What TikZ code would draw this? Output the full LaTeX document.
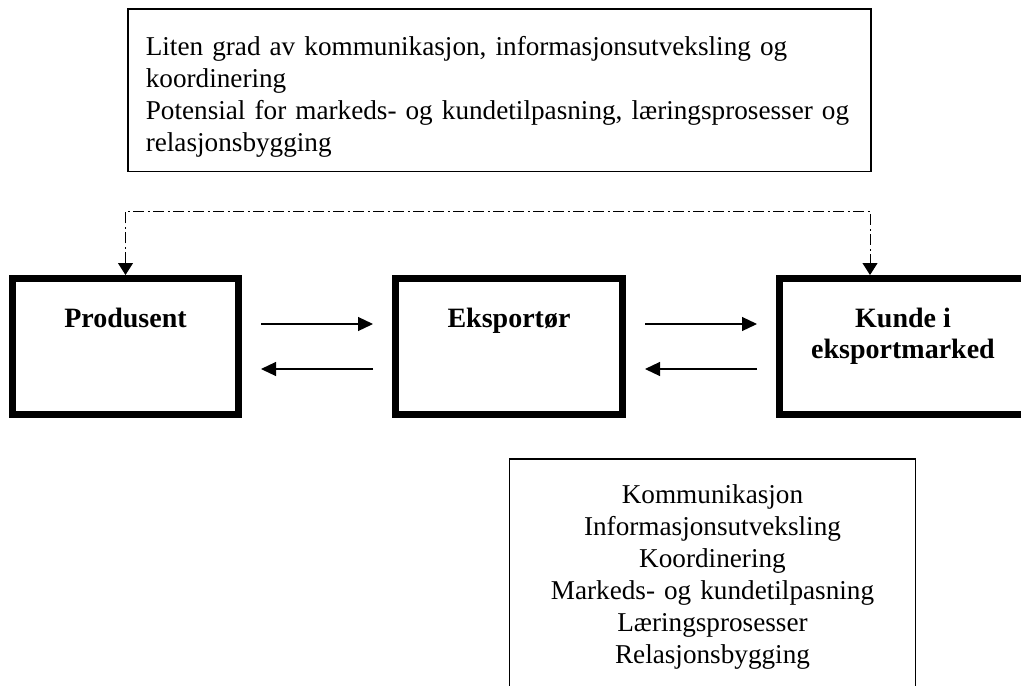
\documentclass[tikz,border=0pt]{standalone}
\usepackage{fontspec}
\setmainfont{Liberation Serif}
\usetikzlibrary{arrows.meta}

\begin{document}
\begin{tikzpicture}[x=0.5pt, y=-0.5pt,
    >={Triangle[length=7.5pt,width=7pt]},
    actor/.style={draw, line width=3.5pt, minimum height=68pt, inner sep=0pt},
    actorname/.style={anchor=north, inner sep=0pt, align=center, font=\fontsize{14}{15.5}\selectfont\bfseries},
    textbox/.style={inner xsep=9pt, inner ysep=7pt, font=\fontsize{13.6}{16}\selectfont},
    flow/.style={->, line width=0.6pt, shorten <=9.5pt, shorten >=9.5pt},
    link/.style={<->, line width=0.5pt, >={Triangle[length=6pt,width=7.5pt]}, dash pattern=on 5.5pt off 1.75pt on 1pt off 1.75pt}]
    \useasboundingbox (0,0) rectangle (1021,685);
    \clip (0,0) rectangle (1021,685);

    % Top box
    \node[textbox, draw, line width=0.8pt, anchor=north west, text width=353.5pt, align=left] (info) at (127,8)
        {\rule{0pt}{16.5pt}\mbox{Liten grad av kommunikasjon, informasjonsutveksling og}\\ koordinering\\
         \mbox{Potensial for markeds- og kundetilpasning, læringsprosesser og}\\ relasjonsbygging};

    % Actors
    \node[actor, minimum width=113pt] (prod) at (125.5,346.5) {};
    \node[actor, minimum width=113.5pt] (eksp) at (509,346.5) {};
    \node[actor, minimum width=123.5pt] (kunde) at (903,346.5) {};
    \node[actorname] (prodname) at ([yshift=-16.3pt]prod.north) {Produsent};
    \node[actorname] (ekspname) at ([yshift=-16.3pt]eksp.north) {Eksportør};
    \node[actorname] (kundename) at ([yshift=-16.3pt]kunde.north) {Kunde i\\ eksportmarked};

    % Flows
    \draw[flow] ([yshift=11.25pt]prod.east) -- ([yshift=11.25pt]eksp.west);
    \draw[flow] ([yshift=-11.25pt]eksp.west) -- ([yshift=-11.25pt]prod.east);
    \draw[flow] ([yshift=11.25pt]eksp.east) -- ([yshift=11.25pt]kunde.west);
    \draw[flow] ([yshift=-11.25pt]kunde.west) -- ([yshift=-11.25pt]eksp.east);

    % Link
    \coordinate (lane) at (0,211);
    \coordinate (kt) at ([xshift=-16.5pt]kunde.north);
    \draw[link] (prod.north) -- (prod.north |- lane) -- (kt |- lane) -- (kt);

    % Bottom box
    \node[textbox, anchor=north, inner xsep=5pt, text width=192.5pt, align=center] (tiltak) at (712.5,459)
        {\rule{0pt}{15pt}Kommunikasjon\\ Informasjonsutveksling\\ Koordinering\\ Markeds- og kundetilpasning\\ Læringsprosesser\\ Relasjonsbygging};
    \draw[line width=0.8pt] ([yshift=-10pt]tiltak.south west) -- (tiltak.north west) -- (tiltak.north east) -- ([yshift=-10pt]tiltak.south east);
\end{tikzpicture}
\end{document}
